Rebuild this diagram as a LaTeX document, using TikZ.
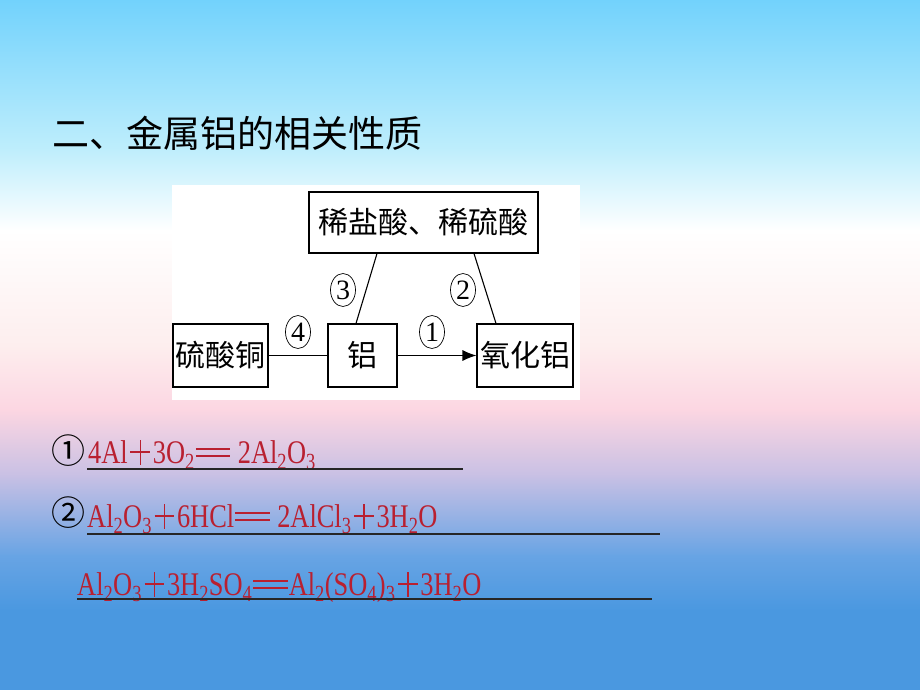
\documentclass[tikz,border=0pt]{standalone}
\usepackage{fontspec}
\setmainfont{Liberation Serif}
\newfontfamily\cjk{Noto Sans CJK SC}
\usetikzlibrary{shapes.geometric,arrows.meta}
\definecolor{eqred}{RGB}{185,32,48}
\definecolor{bgA}{RGB}{114,210,252}
\definecolor{bgB}{RGB}{191,238,252}
\definecolor{bgC}{RGB}{255,255,255}
\definecolor{bgD}{RGB}{253,238,238}
\definecolor{bgE}{RGB}{252,214,226}
\definecolor{bgF}{RGB}{200,192,228}
\definecolor{bgG}{RGB}{104,164,228}
\definecolor{bgH}{RGB}{74,152,224}
\newcommand{\sbs}[1]{\textsubscript{#1}}
\newcommand{\pls}{\kern0.1em\rlap{\rule[0.3em]{0.75em}{0.05em}}\kern0.35em\rule[-0.05em]{0.05em}{0.75em}\kern0.35em\kern0.1em}
\newcommand{\eqq}{\kern0.04em\rlap{\rule[0.18em]{1.3em}{0.07em}}\rule[0.38em]{1.3em}{0.07em}\kern0.04em}
\newcommand{\eqs}[1]{\scalebox{0.8}[1]{#1}}
\begin{document}
\begin{tikzpicture}[x=1pt,y=-1pt,
  box/.style={draw,line width=1.1pt,inner sep=0pt,font=\cjk\fontsize{30}{30}\selectfont},
  circlab/.style={draw,ellipse,line width=0.7pt,inner sep=0pt,minimum width=25pt,minimum height=33pt,font=\fontsize{28}{28}\selectfont},
  conn/.style={line width=1.1pt},
  eqtext/.style={anchor=base west,inner sep=0pt,text=eqred,font=\fontsize{33}{33}\selectfont},
  eqnum/.style={inner sep=0pt,font=\cjk\fontsize{34}{34}\selectfont},
  uline/.style={line width=1.3pt,black!85}]
\useasboundingbox (0,0) rectangle (920,690);
% background
\shade[top color=bgA,bottom color=bgB] (0,0) rectangle (920,151);
\shade[top color=bgB,bottom color=bgC] (0,150) rectangle (920,231);
\shade[top color=bgC,bottom color=bgD] (0,230) rectangle (920,346);
\shade[top color=bgD,bottom color=bgE] (0,345) rectangle (920,411);
\shade[top color=bgE,bottom color=bgF] (0,410) rectangle (920,476);
\shade[top color=bgF,bottom color=bgG] (0,475) rectangle (920,556);
\shade[top color=bgG,bottom color=bgH] (0,555) rectangle (920,611);
\fill[bgH] (0,610) rectangle (920,690);
% title
\node[anchor=west,inner sep=0pt,font=\cjk\fontsize{37}{37}\selectfont] (title) at (52,133) {二、金属铝的相关性质};
% diagram
\fill[white] (172,185) rectangle (580,400);
\node[box,minimum width=229pt,minimum height=61pt] (acid) at (423.5,222.5) {稀盐酸、稀硫酸};
\node[box,minimum width=95pt,minimum height=63pt] (cuso) at (220.5,355.5) {硫酸铜};
\node[box,minimum width=69pt,minimum height=63pt] (al) at (362.5,355.5) {铝};
\node[box,minimum width=96pt,minimum height=63pt] (alo) at (525,355.5) {氧化铝};
\draw[conn] (cuso.east) -- (al.west);
\draw[conn,-{Latex[length=14pt,width=11pt]}] (al.east) -- (alo.west);
\draw[conn] ([xshift=-46.5pt]acid.south) -- ([xshift=-6.5pt]al.north);
\draw[conn] ([xshift=50.5pt]acid.south) -- ([xshift=-29pt]alo.north);
\node[circlab] (n3) at (343,290) {3};
\node[circlab] (n2) at (463,290) {2};
\node[circlab] (n4) at (298,332) {4};
\node[circlab] (n1) at (432,332) {1};
% equations
\node[eqnum] (e1n) at (68,451) {①};
\node[eqtext] (e1) at (88,463) {\eqs{4Al\pls3O\sbs{2}\eqq\ 2Al\sbs{2}O\sbs{3}}};
\coordinate (u1a) at (87,469); \coordinate (u1b) at (463,469);
\draw[uline] (u1a) -- (u1b);
\node[eqnum] (e2n) at (68,513) {②};
\node[eqtext] (e2) at (87,527) {\eqs{Al\sbs{2}O\sbs{3}\pls6HCl\eqq\ 2AlCl\sbs{3}\pls3H\sbs{2}O}};
\coordinate (u2a) at (87,534); \coordinate (u2b) at (660,534);
\draw[uline] (u2a) -- (u2b);
\node[eqtext] (e3) at (77,595) {\eqs{Al\sbs{2}O\sbs{3}\pls3H\sbs{2}SO\sbs{4}\eqq Al\sbs{2}(SO\sbs{4})\sbs{3}\pls3H\sbs{2}O}};
\coordinate (u3a) at (77,599); \coordinate (u3b) at (652,599);
\draw[uline] (u3a) -- (u3b);
\end{tikzpicture}
\end{document}
